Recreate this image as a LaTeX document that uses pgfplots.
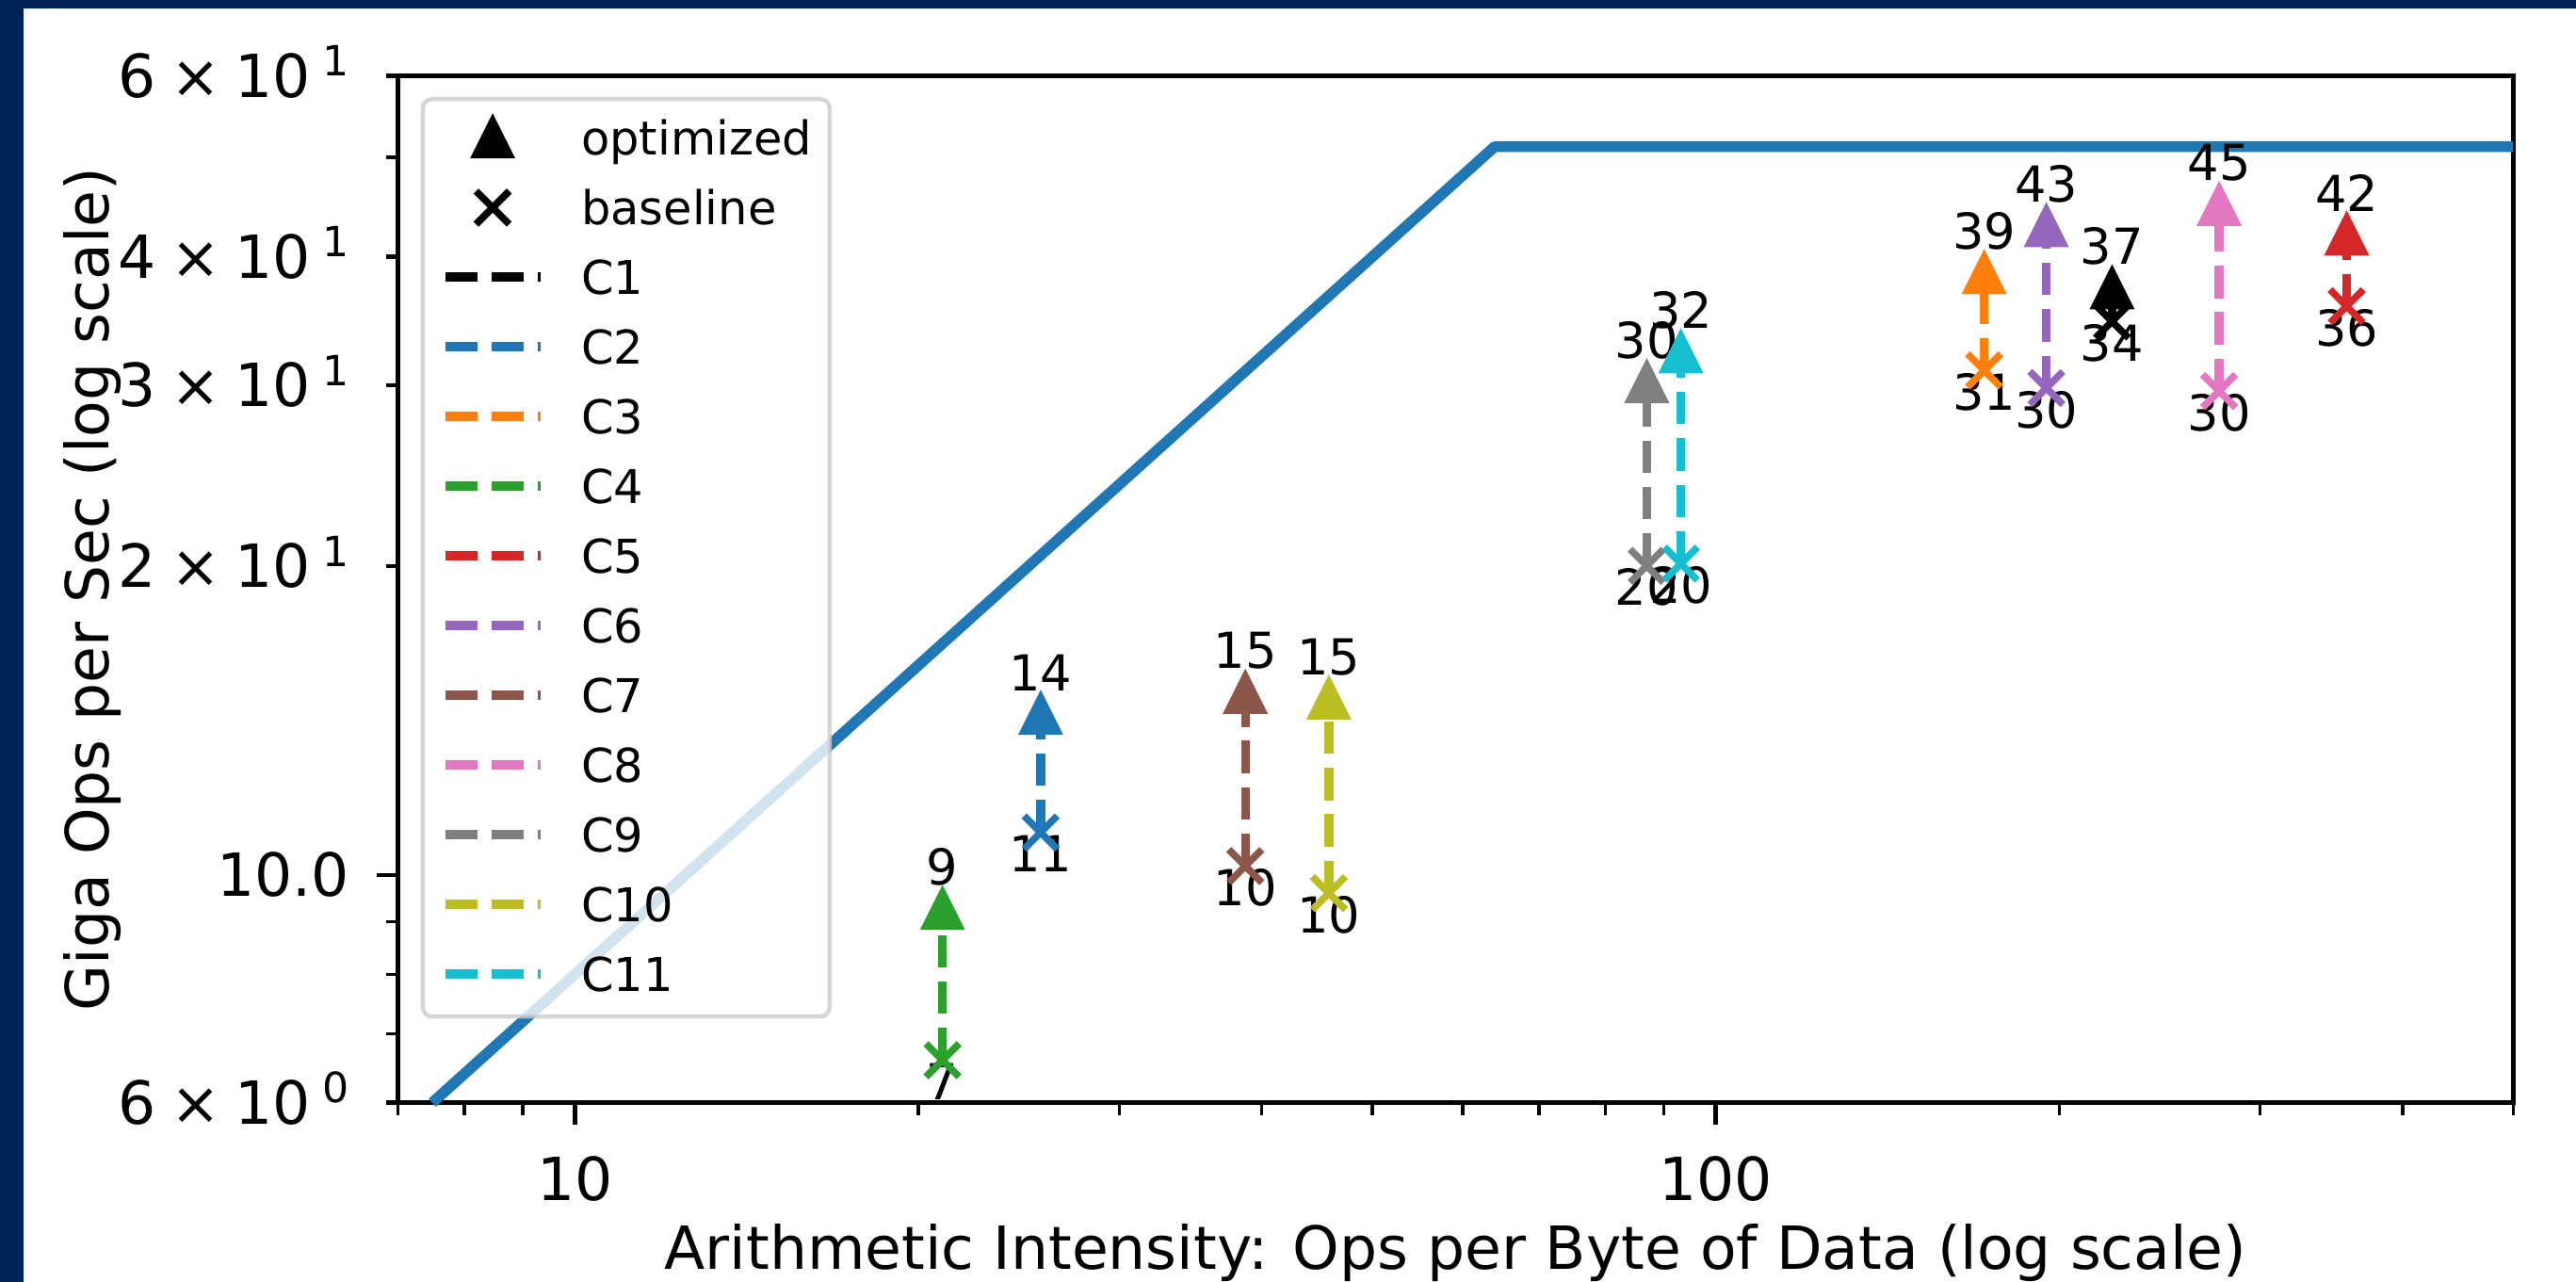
\documentclass[border=0pt]{standalone}
\usepackage{fontspec}
\setmainfont{DejaVu Sans}
\usepackage{pgfplots}
\pgfplotsset{compat=1.18}

\definecolor{navy}{RGB}{0,35,86}
\definecolor{cA}{HTML}{000000}
\definecolor{cB}{HTML}{1F77B4}
\definecolor{cC}{HTML}{FF7F0E}
\definecolor{cD}{HTML}{2CA02C}
\definecolor{cE}{HTML}{D62728}
\definecolor{cF}{HTML}{9467BD}
\definecolor{cG}{HTML}{8C564B}
\definecolor{cH}{HTML}{E377C2}
\definecolor{cI}{HTML}{7F7F7F}
\definecolor{cJ}{HTML}{BCBD22}
\definecolor{cK}{HTML}{17BECF}
\definecolor{lgray}{HTML}{CCCCCC}

\pgfdeclareplotmark{mtri}{%
  \pgfpathmoveto{\pgfqpoint{0pt}{\pgfplotmarksize}}%
  \pgfpathlineto{\pgfqpoint{-\pgfplotmarksize}{-\pgfplotmarksize}}%
  \pgfpathlineto{\pgfqpoint{\pgfplotmarksize}{-\pgfplotmarksize}}%
  \pgfpathclose\pgfusepathqfill}
\pgfdeclareplotmark{mx}{%
  \pgfpathmoveto{\pgfqpoint{-\pgfplotmarksize}{-\pgfplotmarksize}}%
  \pgfpathlineto{\pgfqpoint{\pgfplotmarksize}{\pgfplotmarksize}}%
  \pgfpathmoveto{\pgfqpoint{-\pgfplotmarksize}{\pgfplotmarksize}}%
  \pgfpathlineto{\pgfqpoint{\pgfplotmarksize}{-\pgfplotmarksize}}%
  \pgfusepathqstroke}

\newcommand{\sups}[1]{\hspace{0.2em}\raisebox{0.36em}{\fontsize{8.4pt}{8.4pt}\selectfont #1}}
\newcommand{\tlab}[2]{#1\hspace{0.25em}×\hspace{0.25em}10\sups{#2}}
\newcommand{\annfont}{\fontsize{10pt}{12pt}\selectfont}
\newcommand{\olab}[3]{\node[anchor=south, inner sep=0pt, yshift=4.18pt, font=\annfont, black] at (axis cs:#1,#2) {#3};}
\newcommand{\blab}[3]{\node[anchor=north, inner sep=0pt, yshift=-0.4pt, font=\annfont, black] at (axis cs:#1,#2) {#3};}
\newcommand{\lline}[1]{\addlegendimage{legend image code/.code={\draw[#1, line width=1.767pt, dash pattern=on 6.536pt off 2.831pt, opacity=1, sharp corners, line cap=butt] (0pt,3.534pt) -- (19.19pt,3.534pt);}}}

\pgfplotsset{
  dashC/.style={forget plot, line width=1.767pt, dash pattern=on 6.536pt off 2.831pt, line cap=butt},
  optM/.style={forget plot, only marks, mark=mtri, mark size=4.56pt},
  baseM/.style={forget plot, only marks, mark=mx, mark size=3.344pt, mark options={line width=1.425pt, solid, line cap=butt}},
}

\begin{document}
\begin{tikzpicture}
\fill[navy] (0pt,0pt) rectangle (519.65pt,258.59pt);
\fill[white] (4.75pt,0pt) rectangle (519.65pt,256.785pt);
\begin{axis}[
  at={(80.313pt,36.157pt)}, anchor=south west,
  scale only axis, width=426.664pt, height=207.1pt,
  xmode=log, ymode=log,
  xmin=7, xmax=500, ymin=6, ymax=60,
  clip=false,
  axis line style={line width=0.95pt},
  tick align=outside, tick pos=left,
  major tick length=4.37pt, minor tick length=2.47pt,
  major tick style={line width=0.855pt, black},
  minor tick style={line width=0.665pt, black},
  xtick={10,100}, xticklabels={10,100},
  minor xtick={7,8,9,20,30,40,50,60,70,80,90,200,300,400,500},
  ytick={10}, yticklabels={10.0},
  minor ytick={7,8,9,50},
  extra y ticks={6,20,30,40,60},
  extra y tick labels={\tlab{6}{0},\tlab{2}{1},\tlab{3}{1},\tlab{4}{1},\tlab{6}{1}},
  extra y tick style={major tick length=2.47pt, tick pos=left, yticklabel style={xshift=-1.9pt}},
  tick label style={font=\fontsize{12pt}{14.4pt}\selectfont},
  xticklabel style={anchor=base, inner sep=0pt, yshift=-15.45pt},
  yticklabel style={anchor=base east, inner sep=0pt, xshift=-5.26pt, yshift=-4.37pt},
  xlabel={Arithmetic Intensity: Ops per Byte of Data (log scale)},
  ylabel={Giga Ops per Sec (log scale)},
  label style={font=\fontsize{12pt}{14.4pt}\selectfont},
  xlabel style={at={(axis description cs:0.5,-0.16266)}, anchor=base, inner sep=0pt},
  ylabel style={at={(axis description cs:-0.13702,0.5)}, anchor=base, inner sep=0pt},
  legend style={
    at={(0.010688,0.97954)}, anchor=north west,
    draw=lgray, draw opacity=0.8, line width=0.855pt, rounded corners=1.9pt,
    fill=white, fill opacity=0.8, text opacity=1,
    inner xsep=3.61pt, inner ysep=1.9pt,
    row sep=1.52pt, column sep=7.41pt,
    font=\fontsize{9.4pt}{11.3pt}\selectfont,
    cells={anchor=base west},
    nodes={inner sep=0pt, text height=9.405pt, text depth=3.135pt, opacity=1, text opacity=1},
  },
]
% legend
\addlegendimage{legend image code/.code={%
  \path (0pt,0pt) (19.19pt,0pt);
  \begin{scope}[shift={(9.595pt,3.895pt)}, opacity=1, black, sharp corners]
  \pgfplotmarksize=4.56pt\relax\pgfuseplotmark{mtri}
  \end{scope}}}
\addlegendentry{optimized}
\addlegendimage{legend image code/.code={%
  \path (0pt,0pt) (19.19pt,0pt);
  \begin{scope}[shift={(9.595pt,3.48pt)}, opacity=1, black, sharp corners, line width=1.425pt, solid, line cap=butt]
  \pgfplotmarksize=3.344pt\relax\pgfuseplotmark{mx}
  \end{scope}}}
\addlegendentry{baseline}
\lline{cA}\addlegendentry{C1}
\lline{cB}\addlegendentry{C2}
\lline{cC}\addlegendentry{C3}
\lline{cD}\addlegendentry{C4}
\lline{cE}\addlegendentry{C5}
\lline{cF}\addlegendentry{C6}
\lline{cG}\addlegendentry{C7}
\lline{cH}\addlegendentry{C8}
\lline{cI}\addlegendentry{C9}
\lline{cJ}\addlegendentry{C10}
\lline{cK}\addlegendentry{C11}

% roofline (enters the plot at x=7.5, y=6)
\addplot[forget plot, cB, line width=2.185pt, line join=round] coordinates {(7.5,6) (64,51.2) (500,51.2)};

% C1
\addplot[dashC, cA] coordinates {(222.5,34.6) (222.5,37.4)};
\addplot[optM, cA] coordinates {(222.5,37.4)};
\addplot[baseM, cA] coordinates {(222.5,34.6)};
% C2
\addplot[dashC, cB] coordinates {(25.6,11.0) (25.6,14.4)};
\addplot[optM, cB] coordinates {(25.6,14.4)};
\addplot[baseM, cB] coordinates {(25.6,11.0)};
% C3
\addplot[dashC, cC] coordinates {(171.9,31.0) (171.9,38.7)};
\addplot[optM, cC] coordinates {(171.9,38.7)};
\addplot[baseM, cC] coordinates {(171.9,31.0)};
% C4
\addplot[dashC, cD] coordinates {(21.0,6.6) (21.0,9.3)};
\addplot[optM, cD] coordinates {(21.0,9.3)};
\addplot[baseM, cD] coordinates {(21.0,6.6)};
% C5
\addplot[dashC, cE] coordinates {(357.3,35.8) (357.3,42.2)};
\addplot[optM, cE] coordinates {(357.3,42.2)};
\addplot[baseM, cE] coordinates {(357.3,35.8)};
% C6
\addplot[dashC, cF] coordinates {(194.9,29.8) (194.9,43.0)};
\addplot[optM, cF] coordinates {(194.9,43.0)};
\addplot[baseM, cF] coordinates {(194.9,29.8)};
% C7
\addplot[dashC, cG] coordinates {(38.7,10.2) (38.7,15.1)};
\addplot[optM, cG] coordinates {(38.7,15.1)};
\addplot[baseM, cG] coordinates {(38.7,10.2)};
% C8
\addplot[dashC, cH] coordinates {(276.2,29.6) (276.2,45.1)};
\addplot[optM, cH] coordinates {(276.2,45.1)};
\addplot[baseM, cH] coordinates {(276.2,29.6)};
% C9
\addplot[dashC, cI] coordinates {(87.0,20.0) (87.0,30.3)};
\addplot[optM, cI] coordinates {(87.0,30.3)};
\addplot[baseM, cI] coordinates {(87.0,20.0)};
% C10
\addplot[dashC, cJ] coordinates {(45.8,9.6) (45.8,14.9)};
\addplot[optM, cJ] coordinates {(45.8,14.9)};
\addplot[baseM, cJ] coordinates {(45.8,9.6)};
% C11
\addplot[dashC, cK] coordinates {(93.2,20.1) (93.2,32.4)};
\addplot[optM, cK] coordinates {(93.2,32.4)};
\addplot[baseM, cK] coordinates {(93.2,20.1)};

% value labels
\olab{222.5}{37.4}{37}\blab{222.5}{34.6}{34}
\olab{25.6}{14.4}{14}\blab{25.6}{11.0}{11}
\olab{171.9}{38.7}{39}\blab{171.9}{31.0}{31}
\olab{21.0}{9.3}{9}\blab{21.0}{6.6}{7}
\olab{357.3}{42.2}{42}\blab{357.3}{35.8}{36}
\olab{194.9}{43.0}{43}\blab{194.9}{29.8}{30}
\olab{38.7}{15.1}{15}\blab{38.7}{10.2}{10}
\olab{276.2}{45.1}{45}\blab{276.2}{29.6}{30}
\olab{87.0}{30.3}{30}\blab{87.0}{20.0}{20}
\olab{45.8}{14.9}{15}\blab{45.8}{9.6}{10}
\olab{93.2}{32.4}{32}\blab{93.2}{20.1}{20}
\end{axis}
\pgfresetboundingbox
\useasboundingbox (0pt,0pt) rectangle (519.65pt,258.59pt);
\end{tikzpicture}
\end{document}
